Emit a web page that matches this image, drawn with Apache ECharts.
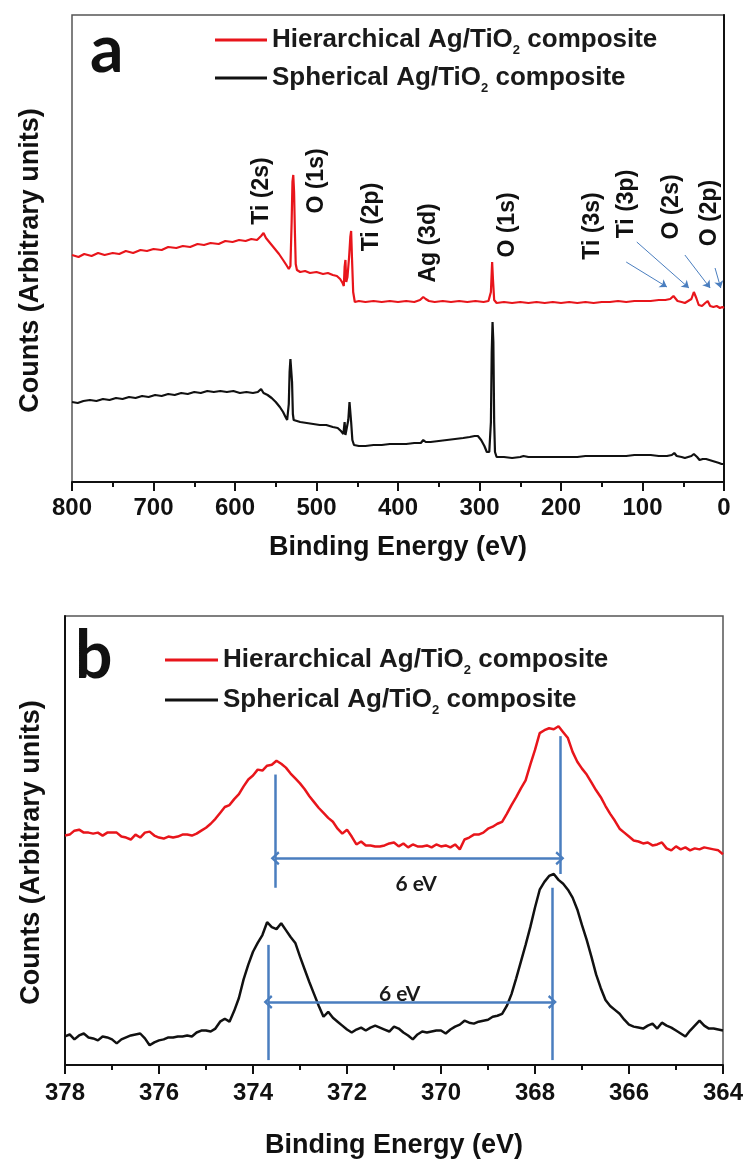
<!DOCTYPE html>
<html><head><meta charset="utf-8">
<script src="https://cdn.jsdelivr.net/npm/echarts@6/dist/echarts.min.js"></script>
<style>html,body{margin:0;padding:0;background:#fff}#c{width:750px;height:1160px}</style>
</head><body><div id="c"></div>
<script>
// ---------- DATA ----------
const seriesNames = ['Hierarchical Ag/TiO2 composite', 'Spherical Ag/TiO2 composite'];
const panelLetters = ['a', 'b'];
const xTitle = 'Binding Energy (eV)';
const yTitle = 'Counts (Arbitrary units)';

// Panel a: survey spectra [binding energy (eV), counts (arb.)]
const surveyTicks = [800, 700, 600, 500, 400, 300, 200, 100, 0];
const surveyHier = [[800,227],[792,225],[785,228],[776,226],[768,229],[760,227],[750,229],[742,228],[734,231],[725,229],[716,232],[708,231],[700,233],[690,232],[682,235],[672,234],[664,236],[655,235],[646,238],[638,237],[630,239],[620,238],[612,241],[603,240],[595,242],[587,241],[580,243],[573,242],[568,246],[565,249],[562,244],[558,240],[552,234],[546,228],[541,222],[537,217],[534,213],[532,216],[530.5,260],[529.5,300],[528.5,307],[527.5,290],[526.5,250],[525.5,218],[524,212],[520,210],[514,211],[508,209],[500,210],[492,208],[486,209],[480,207],[475,206],[471,203],[468,199],[466.5,196],[465.5,215],[464.5,222],[463.5,200],[462,205],[460,225],[458.5,245],[457.5,251],[456.5,225],[455,190],[453,180],[448,181],[440,180],[430,181],[420,180],[410,181],[400,180],[390,181],[380,180],[373,182],[369,185],[366,183],[362,181],[355,180],[345,181],[335,180],[325,181],[315,180],[305,181],[295,180],[289,181],[286,190],[284.5,220],[283.5,203],[282,182],[279,179],[270,180],[260,179],[250,180],[240,179],[230,180],[220,179],[210,180],[200,179],[190,180],[180,179],[170,180],[160,179],[150,180],[140,180],[130,181],[120,180],[110,181],[100,181],[90,181],[80,182],[72,182],[66,183],[62,186],[60,185],[57,181],[52,180],[48,179],[44,181],[40,183],[37,190],[34,184],[31,177],[27,176],[23,179],[20,181],[17,176],[13,175],[9,176],[5,174],[2,175],[0,174]];
const surveySph = [[800,80],[793,79],[786,81],[778,82],[770,81],[762,83],[754,82],[746,84],[738,83],[730,85],[722,84],[714,86],[706,85],[698,87],[690,86],[682,88],[674,87],[666,89],[658,88],[650,90],[642,89],[634,91],[626,90],[618,91],[610,90],[602,91],[594,89],[586,90],[578,89],[572,90],[568,93],[565,89],[560,87],[555,84],[550,80],[545,75],[541,70],[538,65],[536,62],[534,78],[533,110],[532,123],[531,122],[530,100],[529,68],[528,62],[526,60],[520,60],[512,59],[504,58],[496,57],[488,57],[480,55],[474,54],[470,51],[467,48],[465.5,60],[464.5,47],[463,46],[461,62],[459.5,80],[458.5,81],[457.5,60],[456,42],[454,37],[448,36],[440,36],[430,37],[420,37],[410,38],[400,38],[390,38],[380,39],[372,39],[369,42],[366,40],[360,40],[350,41],[340,42],[330,43],[320,44],[312,45],[306,46],[302,46],[298,42],[294,36],[291,30],[288,30],[286,60],[285,130],[284,160],[283,140],[282,60],[281,30],[279,25],[270,25],[260,24],[250,25],[246,26],[240,25],[230,25],[220,25],[210,25],[200,25],[190,25],[180,25],[170,26],[160,26],[152,26],[150,27],[148,26],[140,26],[130,26],[120,26],[110,27],[104,27],[102,28],[100,27],[90,27],[80,26],[70,26],[64,27],[61,29],[58,26],[52,25],[48,24],[44,25],[40,26],[37,28],[35,29],[33,25],[30,22],[26,23],[22,23],[18,22],[14,21],[10,20],[6,19],[3,18],[0,18]];
// peak labels [text, eV, counts]
const surveyPeakLabels = [['Ti (2s)',567,291],['O (1s)',500,301],['Ti (2p)',432,265],['Ag (3d)',362,239],['O (1s)',266,257],['Ti (3s)',161,256],['Ti (3p)',120,278],['O (2s)',64,275],['O (2p)',17,269]];
// leader arrows [[from eV, counts],[to eV, counts]]
const surveyArrows = [[[120,220],[70,195]],[[107,240],[43,194]],[[48,227],[17,194]],[[11,214],[4,194]]];

// Panel b: Ag 3d region
const agTicks = [378, 376, 374, 372, 370, 368, 366, 364];
const agHier = [[378.0,233],[377.9,234],[377.8,238],[377.7,239],[377.6,236],[377.5,236],[377.4,235],[377.3,236],[377.2,233],[377.1,236],[377.0,236],[376.9,236],[376.8,232],[376.7,231],[376.6,229],[376.5,234],[376.4,231],[376.3,236],[376.2,237],[376.1,233],[376.0,231],[375.9,230],[375.8,232],[375.7,231],[375.6,232],[375.5,234],[375.4,234],[375.3,233],[375.2,235],[375.1,238],[375.0,241],[374.9,245],[374.8,250],[374.7,256],[374.6,262],[374.5,264],[374.4,270],[374.3,275],[374.2,283],[374.1,290],[374.0,294],[373.9,300],[373.8,299],[373.7,304],[373.6,305],[373.5,309],[373.4,306],[373.3,302],[373.2,296],[373.1,291],[373.0,286],[372.9,280],[372.8,273],[372.7,267],[372.6,261],[372.5,256],[372.4,251],[372.3,247],[372.2,240],[372.1,235],[372.0,239],[371.9,232],[371.8,224],[371.7,227],[371.6,223],[371.5,223],[371.4,222],[371.3,222],[371.2,223],[371.1,225],[371.0,226],[370.9,222],[370.8,225],[370.7,221],[370.6,224],[370.5,222],[370.4,222],[370.3,223],[370.2,221],[370.1,224],[370.0,222],[369.9,223],[369.8,221],[369.7,224],[369.6,219],[369.5,229],[369.4,231],[369.3,234],[369.2,234],[369.1,236],[369.0,240],[368.9,242],[368.8,245],[368.7,247],[368.6,255],[368.5,264],[368.4,272],[368.3,281],[368.2,289],[368.1,305],[368.0,320],[367.9,337],[367.8,340],[367.7,342],[367.6,341],[367.5,344],[367.4,338],[367.3,332],[367.2,318],[367.1,308],[367.0,301],[366.9,295],[366.8,287],[366.7,279],[366.6,272],[366.5,263],[366.4,255],[366.3,248],[366.2,240],[366.1,236],[366.0,232],[365.9,228],[365.8,227],[365.7,225],[365.6,226],[365.5,223],[365.4,224],[365.3,226],[365.2,220],[365.1,218],[365.0,222],[364.9,219],[364.8,221],[364.7,218],[364.6,220],[364.5,219],[364.4,221],[364.3,220],[364.2,219],[364.1,218],[364.0,214]];
const agSph = [[378.0,29],[377.9,31],[377.8,26],[377.7,30],[377.6,32],[377.5,28],[377.4,27],[377.3,25],[377.2,29],[377.1,28],[377.0,26],[376.9,22],[376.8,26],[376.7,28],[376.6,30],[376.5,31],[376.4,32],[376.3,27],[376.2,20],[376.1,23],[376.0,25],[375.9,26],[375.8,28],[375.7,28],[375.6,29],[375.5,29],[375.4,30],[375.3,29],[375.2,33],[375.1,35],[375.0,35],[374.9,34],[374.8,37],[374.7,44],[374.6,47],[374.5,44],[374.4,55],[374.3,68],[374.2,87],[374.1,102],[374.0,115],[373.9,124],[373.8,132],[373.7,145],[373.6,140],[373.5,138],[373.4,144],[373.3,137],[373.2,130],[373.1,124],[373.0,110],[372.9,97],[372.8,84],[372.7,72],[372.6,60],[372.5,49],[372.4,54],[372.3,48],[372.2,44],[372.1,40],[372.0,36],[371.9,33],[371.8,36],[371.7,38],[371.6,35],[371.5,38],[371.4,40],[371.3,38],[371.2,36],[371.1,34],[371.0,39],[370.9,37],[370.8,33],[370.7,30],[370.6,26],[370.5,31],[370.4,34],[370.3,33],[370.2,34],[370.1,35],[370.0,35],[369.9,32],[369.8,36],[369.7,39],[369.6,41],[369.5,45],[369.4,43],[369.3,42],[369.2,44],[369.1,45],[369.0,46],[368.9,49],[368.8,50],[368.7,52],[368.6,60],[368.5,72],[368.4,88],[368.3,105],[368.2,122],[368.1,140],[368.0,160],[367.9,178],[367.8,186],[367.7,192],[367.6,194],[367.5,188],[367.4,184],[367.3,178],[367.2,170],[367.1,158],[367.0,142],[366.9,127],[366.8,110],[366.7,92],[366.6,78],[366.5,66],[366.4,60],[366.3,56],[366.2,52],[366.1,46],[366.0,41],[365.9,39],[365.8,38],[365.7,37],[365.6,40],[365.5,42],[365.4,37],[365.3,43],[365.2,40],[365.1,38],[365.0,35],[364.9,32],[364.8,29],[364.7,35],[364.6,40],[364.5,45],[364.4,40],[364.3,37],[364.2,37],[364.1,36],[364.0,35]];
// peak markers: vertical guides [eV, from, to]
const agGuidesHier = [[373.53,295,180],[367.47,334,194]];
const agGuidesSph = [[373.68,122,5],[367.63,180,5]];
// splitting arrows [from eV, to eV, counts]
const agSplitHier = [373.53, 367.47, 210];
const agSplitSph = [373.68, 367.63, 64];
const agSplitLabels = [['6 eV',370.53,184],['6 eV',370.88,72]];

// ---------- STYLE ----------
const FONT = '"Liberation Sans", Arial, sans-serif';
const RED = '#e8151b', BLACK = '#111111', BLUE = '#4a7ebf';
const chevron = 'path://M0,8 L6,0 L12,8 L10.3,9.6 L6,3.6 L1.7,9.6 Z';

function legendFmt(name){
  const parts = name.split('TiO2');
  return '{t|' + parts[0] + 'TiO}{s|2}{t|' + parts[1] + '}';
}
const legendRich = {
  t: {fontFamily: FONT, fontWeight: 'bold', fontSize: 26, color: '#1a1a1a', lineHeight: 34},
  s: {fontFamily: FONT, fontWeight: 'bold', fontSize: 13, color: '#1a1a1a', lineHeight: 11, verticalAlign: 'bottom'}
};

function xAxisCfg(gi, min, max, interval, margin, gap){
  return {
    type: 'value', gridIndex: gi, min: min, max: max, interval: interval, inverse: true,
    axisLine: {show: true, onZero: false, lineStyle: {color: '#111', width: 2}},
    axisTick: {show: true, inside: false, length: 9, lineStyle: {color: '#111', width: 2}},
    minorTick: {show: true, splitNumber: 2, length: 5, lineStyle: {color: '#111', width: 2}},
    splitLine: {show: false},
    axisLabel: {fontFamily: FONT, fontWeight: 'bold', fontSize: 24, color: '#111', margin: margin},
    name: xTitle, nameLocation: 'middle', nameGap: gap,
    nameTextStyle: {fontFamily: FONT, fontWeight: 'bold', fontSize: 27, color: '#111'}
  };
}
function yAxisCfg(gi, max, gap){
  return {
    type: 'value', gridIndex: gi, min: 0, max: max,
    axisLine: {show: true, lineStyle: {color: '#111', width: 2}},
    axisTick: {show: false}, axisLabel: {show: false}, splitLine: {show: false},
    name: yTitle, nameLocation: 'middle', nameGap: gap, nameRotate: 90,
    nameTextStyle: {fontFamily: FONT, fontWeight: 'bold', fontSize: 27, color: '#111', padding: [0, 24, 0, 0]}
  };
}
const annoLabel = {show: true, position: 'inside', opacity: 1, textBorderWidth: 0, color: '#111'};

const chart = echarts.init(document.getElementById('c'), null, {renderer: 'canvas'});
chart.setOption({
  animation: false,
  backgroundColor: '#fff',
  grid: [
    {left: 72, right: 26, top: 15, height: 467, show: true, borderColor: '#555', borderWidth: 1.5},
    {left: 65, right: 27, top: 616, height: 456, show: true, borderColor: '#555', borderWidth: 1.5}
  ],
  xAxis: [xAxisCfg(0, 0, 800, 100, 14, 52), xAxisCfg(1, 364, 378, 2, 16, 67)],
  yAxis: [yAxisCfg(0, 467, 28), yAxisCfg(1, 456, 20)],
  legend: [
    {orient: 'vertical', left: 210, top: 22, icon: 'rect', itemWidth: 52, itemHeight: 3, itemGap: 8, data: seriesNames, formatter: legendFmt, textStyle: {rich: legendRich}, selectedMode: false},
    {orient: 'vertical', left: 160, top: 642, icon: 'rect', itemWidth: 53, itemHeight: 3, itemGap: 10, data: seriesNames, formatter: legendFmt, textStyle: {rich: legendRich}, selectedMode: false}
  ],
  graphic: [
    {type: 'text', left: 90, top: 18, style: {text: panelLetters[0], fontFamily: 'Lato', fontWeight: 'bold', fontSize: 66, fill: '#111'}},
    {type: 'text', left: 75, top: 624, style: {text: panelLetters[1], fontFamily: 'Lato', fontWeight: 'bold', fontSize: 66, fill: '#111'}}
  ],
  series: [
    {name: seriesNames[0], type: 'line', xAxisIndex: 0, yAxisIndex: 0, data: surveyHier, symbol: 'none', color: RED, lineStyle: {width: 2.2}, z: 3,
      markLine: {silent: true, animation: false, symbol: ['none', 'arrow'], symbolSize: 7, label: {show: false},
        lineStyle: {color: BLUE, width: 1, type: 'solid'},
        data: surveyArrows.map(a => [{coord: a[0]}, {coord: a[1]}])}},
    {name: seriesNames[1], type: 'line', xAxisIndex: 0, yAxisIndex: 0, data: surveySph, symbol: 'none', color: BLACK, lineStyle: {width: 2.2}, z: 3},
    {name: 'peakLabels', type: 'scatter', xAxisIndex: 0, yAxisIndex: 0, silent: true, symbolSize: 1,
      itemStyle: {color: 'rgba(0,0,0,0)', opacity: 1},
      data: surveyPeakLabels.map(p => ({name: p[0], value: [p[1], p[2]]})),
      label: Object.assign({}, annoLabel, {rotate: 90, formatter: p => p.name,
        fontFamily: FONT, fontWeight: 'bold', fontSize: 23})},
    {name: seriesNames[0], type: 'line', xAxisIndex: 1, yAxisIndex: 1, data: agHier, symbol: 'none', color: RED, lineStyle: {width: 2.5}, z: 3,
      markLine: {silent: true, animation: false, symbol: ['none', 'none'], label: {show: false},
        lineStyle: {color: BLUE, width: 2.5, type: 'solid'},
        data: agGuidesHier.concat(agGuidesSph).map(g => [{coord: [g[0], g[1]]}, {coord: [g[0], g[2]]}])}},
    {name: seriesNames[1], type: 'line', xAxisIndex: 1, yAxisIndex: 1, data: agSph, symbol: 'none', color: BLACK, lineStyle: {width: 2.5}, z: 3,
      markLine: {silent: true, animation: false, symbol: [chevron, chevron], symbolSize: [14, 9], label: {show: false},
        lineStyle: {color: BLUE, width: 2.5, type: 'solid'},
        data: [agSplitHier, agSplitSph].map(s => [{coord: [s[0], s[2]]}, {coord: [s[1], s[2]]}])}},
    {name: 'splitLabels', type: 'scatter', xAxisIndex: 1, yAxisIndex: 1, silent: true, symbolSize: 1,
      itemStyle: {color: 'rgba(0,0,0,0)', opacity: 1},
      data: agSplitLabels.map(p => ({name: p[0], value: [p[1], p[2]]})),
      label: Object.assign({}, annoLabel, {formatter: p => p.name,
        fontFamily: 'Lato', fontWeight: 'bold', fontSize: 21, color: '#1a1a1a'})}
  ]
});
</script></body></html>
